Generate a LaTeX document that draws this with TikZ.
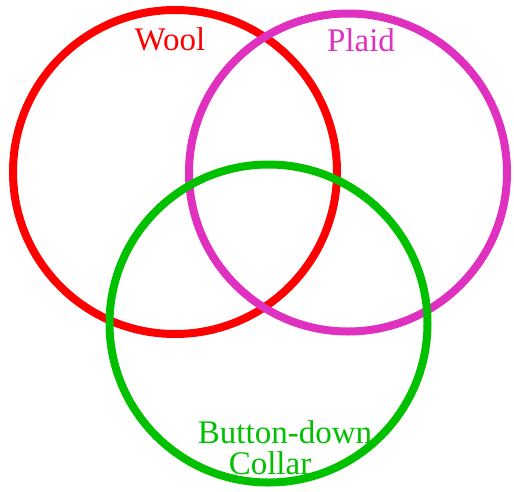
\documentclass[tikz,border=0pt]{standalone}
\usepackage{fontspec}
\setmainfont{Liberation Serif}
\definecolor{woolred}{RGB}{255,0,0}
\definecolor{plaidmag}{RGB}{224,48,192}
\definecolor{collargreen}{RGB}{0,192,0}
\begin{document}
\begin{tikzpicture}[x=1pt,y=-1pt,
  ring/.style={line width=8pt},
  lbl/.style={font=\fontsize{33}{36}\selectfont, anchor=base, inner sep=0pt}]
\useasboundingbox (0,0) rectangle (514,491);
\draw[ring, woolred] (175,172) circle (162);
\draw[ring, plaidmag] (348,172.5) circle (159);
\draw[ring, collargreen] (268.5,323.5) circle (159);
\node[lbl, text=woolred] (wool) at (170,50) {Wool};
\node[lbl, text=plaidmag] (plaid) at (361,51) {Plaid};
\node[lbl, text=collargreen] (button) at (285,443) {Button-down};
\node[lbl, text=collargreen] (collar) at (270,474) {Collar};
\end{tikzpicture}
\end{document}
